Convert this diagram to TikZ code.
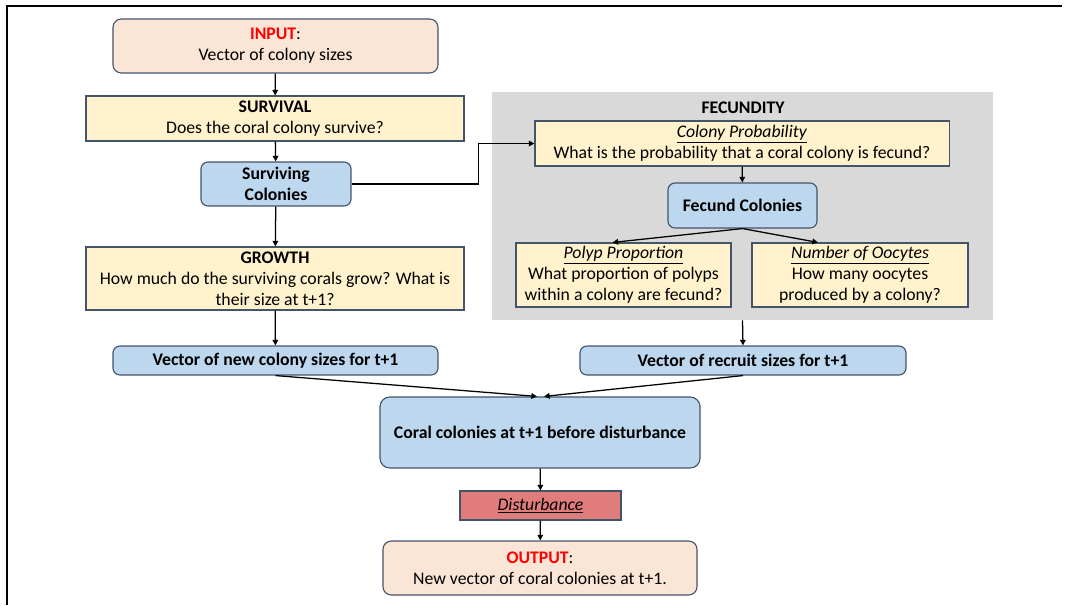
\documentclass[tikz,border=0pt]{standalone}
\usepackage{fontspec}
\setmainfont{Carlito}
\definecolor{peach1}{RGB}{251, 229, 214}
\definecolor{yellow1}{RGB}{255, 242, 204}
\definecolor{blue1}{RGB}{189, 215, 238}
\definecolor{edge1}{RGB}{68, 84, 106}
\definecolor{grey1}{RGB}{217, 217, 217}
\definecolor{dist1}{RGB}{224, 124, 124}
\definecolor{red1}{RGB}{255, 0, 0}
\usetikzlibrary{arrows.meta, calc}

\tikzset{
  box/.style={draw=edge1, line width=0.8pt, align=center, inner sep=1pt, font=\fontsize{12.6}{14.8}\selectfont},
  ioBox/.style={box, fill=peach1, rounded corners=6pt},
  qBox/.style={box, fill=yellow1},
  resBox/.style={box, fill=blue1, rounded corners=5pt, font=\fontsize{12.6}{14.8}\selectfont\bfseries},
  arr/.style={-{Triangle[length=4pt, width=4pt]}, line width=0.9pt, black}
}

\begin{document}
\begin{tikzpicture}[x=0.025cm, y=-0.025cm]
  \useasboundingbox (0,0) rectangle (1065,605);
  % frame
  \draw[line width=2pt] (7,605) -- (7,6) -- (1062,6);

  % fecundity panel
  \node[fill=grey1, minimum width=12.525cm, minimum height=5.7cm, inner sep=0pt] (fecbg) at (742.5,206) {};
  \node[font=\fontsize{12.6}{14.8}\selectfont\bfseries] (feclab) at (743,108) {FECUNDITY};

  % left column
  \node[ioBox, minimum width=8.125cm, minimum height=1.35cm] (input) at (275.5,46) {\textbf{\textcolor{red1}{INPUT}}:\\Vector of colony sizes};
  \node[qBox, minimum width=9.45cm, minimum height=1.125cm] (survival) at (275,118.5) {\textbf{SURVIVAL}\\Does the coral colony survive?};
  \node[resBox, minimum width=3.75cm, minimum height=1.1cm] (surv) at (276,184) {Surviving\\Colonies};
  \node[qBox, minimum width=9.45cm, minimum height=1.575cm] (growth) at (275,278.5) {\textbf{GROWTH}\\How much do the surviving corals grow? What is\\their size at t+1?};
  \node[resBox, minimum width=8.125cm, minimum height=0.725cm] (newvec) at (275.5,360.5) {Vector of new colony sizes for t+1};

  % right column
  \node[qBox, minimum width=10.35cm, minimum height=1.125cm] (colprob) at (742,143.5) {\underline{\textit{Colony Probability}}\\What is the probability that a coral colony is fecund?};
  \node[resBox, minimum width=3.725cm, minimum height=1.125cm] (fecund) at (742.5,205.5) {Fecund Colonies};
  \node[qBox, minimum width=5.375cm, minimum height=1.6cm] (polyp) at (623.5,275) {\underline{\textit{Polyp Proportion}}\\What proportion of polyps\\within a colony are fecund?};
  \node[qBox, minimum width=5.4cm, minimum height=1.6cm] (oocytes) at (860,275) {\underline{\textit{Number of Oocytes}}\\How many oocytes\\produced by a colony?};
  \node[resBox, minimum width=8.15cm, minimum height=0.725cm] (recvec) at (743,360.5) {Vector of recruit sizes for t+1};

  % bottom
  \node[resBox, rounded corners=7pt, minimum width=8cm, minimum height=1.775cm] (coral) at (540,432.5) {Coral colonies at t+1 before disturbance};
  \node[box, fill=dist1, minimum width=4.025cm, minimum height=0.725cm] (dist) at (540.5,505.5) {\underline{\textit{Disturbance}}};
  \node[ioBox, minimum width=7.85cm, minimum height=1.35cm] (output) at (540,568) {\textbf{\textcolor{red1}{OUTPUT}}:\\New vector of coral colonies at t+1.};

  % connectors
  \draw[arr] (input) -- (survival);
  \draw[arr] (survival) -- (surv);
  \draw[arr] (surv) -- (growth);
  \draw[arr] (growth) -- (newvec);
  \draw[arr] (surv.east) -- ++(127,0) |- (colprob.west);
  \draw[arr] (colprob) -- (fecund);
  \draw[arr] (fecund.south) -- ($(polyp.north)+(-11,0)$);
  \draw[arr] (fecund.south) -- ($(oocytes.north)+(-42,0)$);
  \draw[arr] (fecbg.south) -- (recvec.north);
  \draw[arr] (newvec.south) -- ($(coral.north)+(-3,0)$);
  \draw[arr] (recvec.south) -- ($(coral.north)+(4,0)$);
  \draw[arr] (coral) -- (dist);
  \draw[arr] (dist) -- (output);
\end{tikzpicture}
\end{document}
